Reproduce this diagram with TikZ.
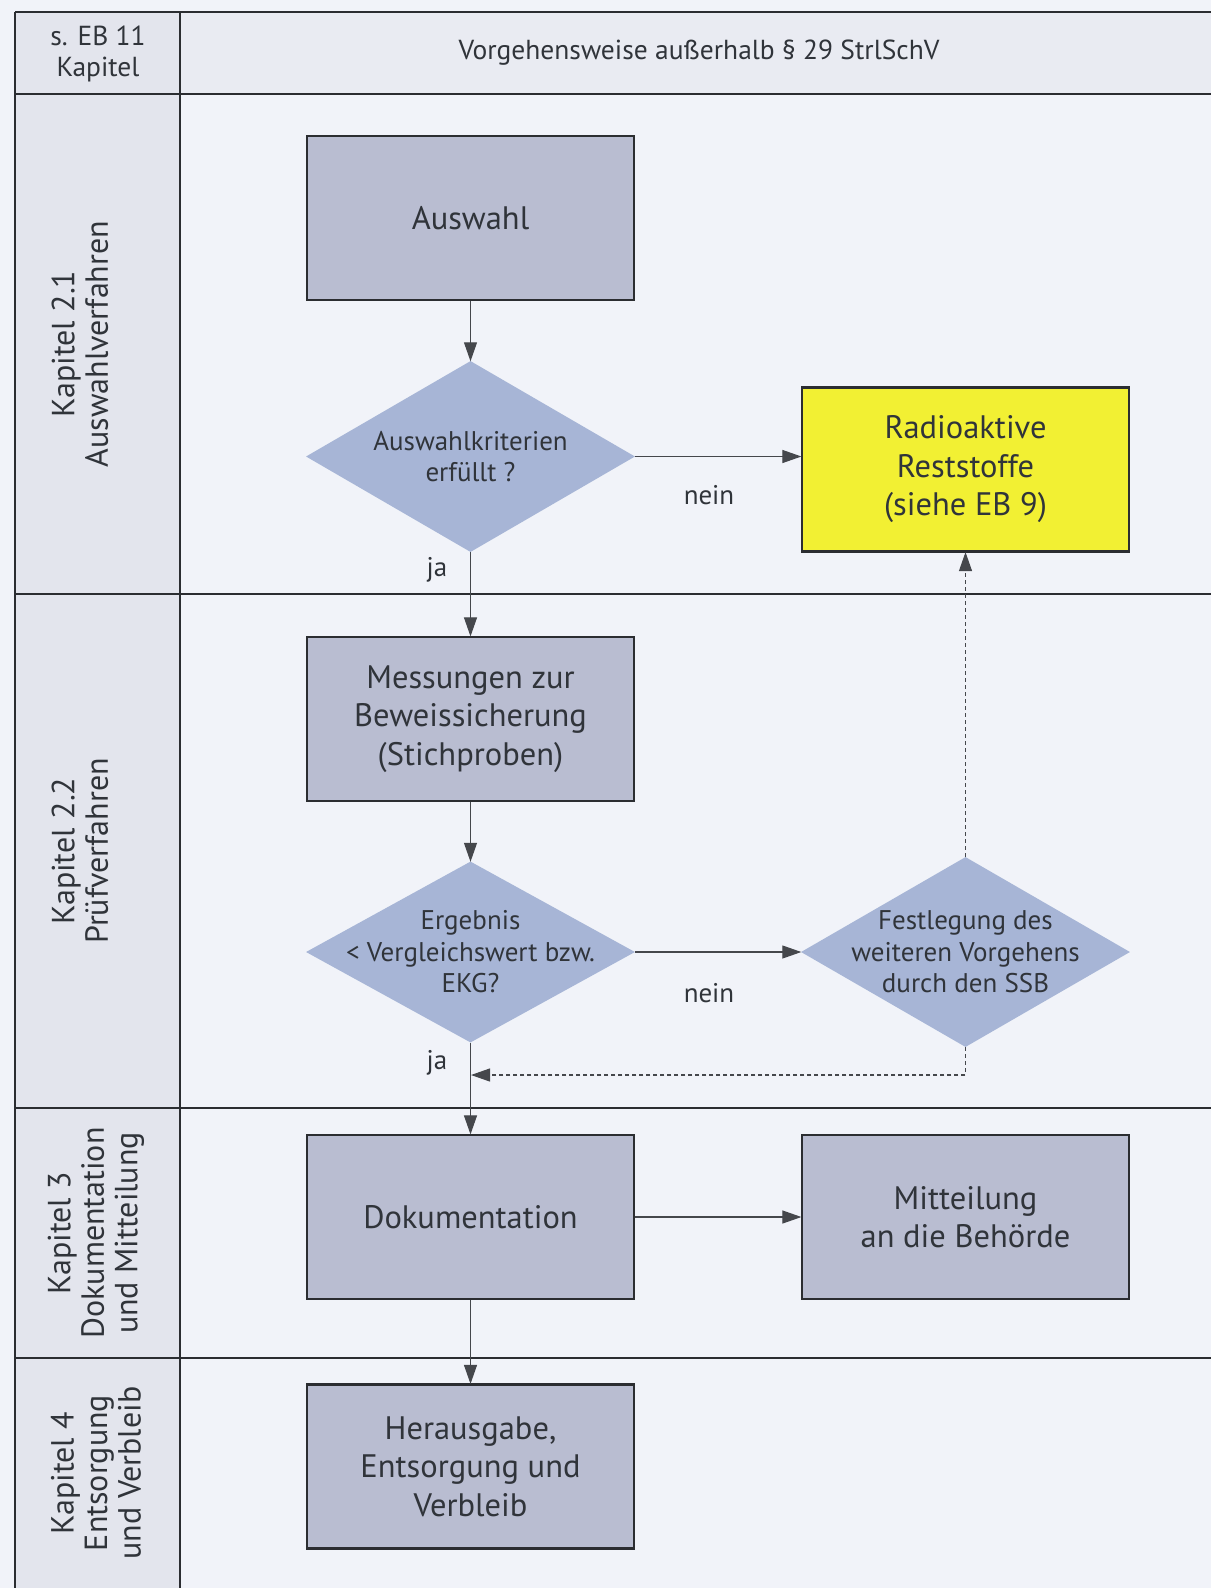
\documentclass[tikz,border=0pt]{standalone}
\usepackage{fontspec}
\setmainfont{PT Sans}
\usetikzlibrary{shapes.geometric,arrows.meta}

\definecolor{pagebg}{HTML}{F1F3F9}
\definecolor{sidebg}{HTML}{E3E5ED}
\definecolor{headbg}{HTML}{E9EBF2}
\definecolor{boxfill}{HTML}{B9BDD1}
\definecolor{diafill}{HTML}{A7B5D6}
\definecolor{yellowfill}{HTML}{F2F033}
\definecolor{framecol}{HTML}{2B2D31}
\definecolor{linecol}{HTML}{45474C}
\definecolor{txtcol}{HTML}{30343A}

\tikzset{
  frameline/.style={draw=framecol, line width=2.4pt},
  procbox/.style={rectangle, draw=framecol, line width=2.2pt, fill=boxfill,
    minimum width=327pt, minimum height=164pt, align=center,
    text=txtcol, font=\fontsize{32.5}{38.5}\selectfont},
  resultbox/.style={procbox, fill=yellowfill},
  decision/.style={diamond, draw=none, fill=diafill, inner sep=0pt,
    minimum width=329pt, minimum height=190pt},
  dtext/.style={align=center, text=txtcol, font=\fontsize{27}{31.5}\selectfont},
  lanelabel/.style={rotate=90, align=center, text=txtcol,
    font=\fontsize{32}{33.5}\selectfont},
  headtext/.style={align=center, text=txtcol, font=\fontsize{27.5}{30.5}\selectfont},
  edgelabel/.style={text=txtcol, font=\fontsize{27}{28}\selectfont},
  flow/.style={draw=linecol, line width=1.1pt,
    -{Triangle[length=19pt,width=13pt]}, shorten >=-0.5pt},
  backflow/.style={flow, dash pattern=on 4pt off 3pt},
}

\begin{document}
\begin{tikzpicture}[x=1pt,y=-1pt]
\useasboundingbox (0,0) rectangle (1211,1588);

% background areas
\fill[pagebg] (0,0) rectangle (1211,1588);
\fill[sidebg] (15,12) rectangle (180,1588);
\fill[headbg] (180,12) rectangle (1211,94);

% table rules
\draw[frameline] (15,12) -- (1211,12);
\draw[frameline] (15,94) -- (1211,94);
\draw[frameline] (15,594) -- (1211,594);
\draw[frameline] (15,1108) -- (1211,1108);
\draw[frameline] (15,1358) -- (1211,1358);
\draw[frameline] (15,12) -- (15,1588);
\draw[frameline] (180,12) -- (180,1588);

% header
\node[headtext] (hchap) at (98,54) {s. EB 11\\Kapitel};
\node[headtext] (htitle) at (699,53) {Vorgehensweise außerhalb § 29 StrlSchV};

% lane labels
\node[lanelabel] (lane1) at (80,344) {Kapitel 2.1\\Auswahlverfahren};
\node[lanelabel] (lane2) at (80,851) {Kapitel 2.2\\Prüfverfahren};
\node[lanelabel] (lane3) at (96,1233) {Kapitel 3\\Dokumentation\\und Mitteilung};
\node[lanelabel] (lane4) at (96,1473) {Kapitel 4\\Entsorgung\\und Verbleib};

% flow elements
\node[procbox] (auswahl) at (470.5,218) {Auswahl};
\node[decision, minimum height=191pt] (d1) at (470.5,456.5) {};
\node[dtext] (d1t) at (d1.center) {Auswahlkriterien\\erfüllt ?};
\node[resultbox] (rest) at (965.5,469.5) {Radioaktive\\Reststoffe\\(siehe EB 9)};
\node[procbox] (mess) at (470.5,719) {Messungen zur\\Beweissicherung\\(Stichproben)};
\node[decision, minimum height=181pt] (d2) at (470.5,952) {};
\node[dtext] (d2t) at (d2.center) {Ergebnis\\< Vergleichswert bzw.\\EKG?};
\node[decision] (d3) at (965.5,952) {};
\node[dtext] (d3t) at (d3.center) {Festlegung des\\weiteren Vorgehens\\durch den SSB};
\node[procbox] (doku) at (470.5,1217) {Dokumentation};
\node[procbox] (mitt) at (965.5,1217) {Mitteilung\\an die Behörde};
\node[procbox] (heraus) at (470.5,1466.5) {Herausgabe,\\Entsorgung und\\Verbleib};

\coordinate (merge) at (471.5,1075);

% connectors
\draw[flow] (auswahl) -- (d1);
\draw[flow] (d1) -- (mess);
\draw[flow] (d1.east) -- (d1.east -| rest.west);
\draw[flow] (mess) -- (d2);
\draw[flow] (d2) -- (doku);
\draw[flow] (d2.east) -- (d3.west);
\draw[flow] (doku) -- (mitt);
\draw[flow] (doku) -- (heraus);
\draw[backflow] (d3.north) -- (rest.south);
\draw[backflow] (d3.south) |- (merge);

% branch labels
\node[edgelabel] (n1) at (709,495) {nein};
\node[edgelabel] (j1) at (437,570) {ja};
\node[edgelabel] (n2) at (709,993) {nein};
\node[edgelabel] (j2) at (437,1063) {ja};
\end{tikzpicture}
\end{document}
